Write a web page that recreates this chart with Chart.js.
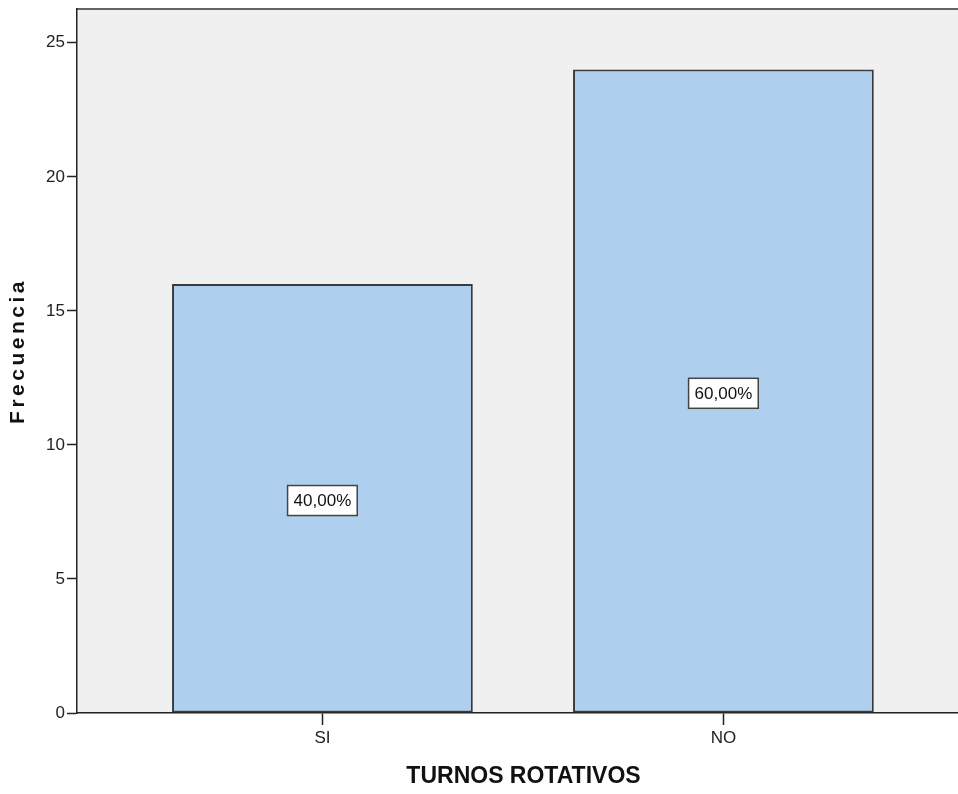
<!DOCTYPE html>
<html lang="es">
<head>
    <meta charset="UTF-8">
    <title>Turnos rotativos</title>
    <script src="https://cdn.jsdelivr.net/npm/chart.js"></script>
    <style>
        body { margin: 0; background: #fff; }
        #wrap { width: 958px; height: 794px; }
    </style>
</head>
<body>
    <div id="wrap"><canvas id="barChart" width="958" height="794"></canvas></div>

    <script>
        // data
        const categories = ['SI', 'NO']
        const frequencies = [16, 24]
        const yTicks = [0, 5, 10, 15, 20, 25]
        const yTitle = 'Frecuencia'
        const xTitle = 'TURNOS ROTATIVOS'

        const total = frequencies.reduce((a, b) => a + b, 0)
        const FONT = "'Liberation Sans', Arial, sans-serif"

        // gray plot background + top frame line
        const frame = {
            id: 'frame',
            beforeDraw(chart) {
                const { ctx, chartArea: a } = chart
                ctx.save()
                ctx.fillStyle = '#f0f0f0'
                ctx.fillRect(a.left, a.top, a.right - a.left, a.bottom - a.top)
                ctx.strokeStyle = '#333'
                ctx.lineWidth = 1.5
                ctx.beginPath()
                ctx.moveTo(a.left, a.top)
                ctx.lineTo(a.right, a.top)
                ctx.stroke()
                ctx.restore()
            }
        }

        // percentage boxes in the middle of each bar
        const pctLabels = {
            id: 'pctLabels',
            afterDatasetsDraw(chart) {
                const { ctx } = chart
                const yScale = chart.scales.y
                const meta = chart.getDatasetMeta(0)
                ctx.save()
                ctx.font = '17px ' + FONT
                ctx.textAlign = 'center'
                ctx.textBaseline = 'middle'
                meta.data.forEach((bar, i) => {
                    const v = frequencies[i]
                    const txt = (v / total * 100).toFixed(2).replace('.', ',') + '%'
                    const cy = yScale.getPixelForValue(v / 2) + 2
                    const w = ctx.measureText(txt).width + 12
                    const h = 30
                    ctx.fillStyle = '#fff'
                    ctx.fillRect(bar.x - w / 2, cy - h / 2, w, h)
                    ctx.strokeStyle = '#444'
                    ctx.lineWidth = 1.5
                    ctx.strokeRect(bar.x - w / 2, cy - h / 2, w, h)
                    ctx.fillStyle = '#111'
                    ctx.fillText(txt, bar.x, cy + 1)
                })
                ctx.restore()
            }
        }

        // axis titles (SPSS style, spaced y title)
        const axisTitles = {
            id: 'axisTitles',
            afterDraw(chart) {
                const { ctx, chartArea: a } = chart
                ctx.save()
                ctx.fillStyle = '#111'
                ctx.textAlign = 'center'
                ctx.textBaseline = 'middle'

                ctx.font = 'bold 23px ' + FONT
                ctx.fillText(xTitle, (a.left + a.right) / 2 + 6, a.bottom + 64)

                ctx.translate(18, (a.top + a.bottom) / 2 - 10)
                ctx.rotate(-Math.PI / 2)
                ctx.font = 'bold 21px ' + FONT
                ctx.letterSpacing = '3.5px'
                ctx.fillText(yTitle, 0, 0)
                ctx.restore()
            }
        }

        const ctx = document.getElementById('barChart').getContext('2d')
        const chart = new Chart(ctx, {
            type: 'bar',
            data: {
                datasets: [{
                    label: 'Frecuencia',
                    data: frequencies.map((v, i) => ({ x: i + 1, y: v })),
                    backgroundColor: '#aecfee',
                    borderColor: '#3a3a3a',
                    borderWidth: 2,
                    borderSkipped: false,
                    categoryPercentage: 0.75,
                    barPercentage: 1
                }]
            },
            options: {
                responsive: false,
                animation: false,
                layout: { padding: { top: 9, right: 0, left: 0, bottom: 0 } },
                plugins: {
                    legend: { display: false },
                    tooltip: { enabled: false }
                },
                scales: {
                    x: {
                        type: 'linear',
                        offset: false,
                        min: 0.388,
                        max: 2.585,
                        afterBuildTicks: s => { s.ticks = categories.map((c, i) => ({ value: i + 1 })) },
                        afterFit: s => { s.height = 81; s.paddingLeft = 0; s.paddingRight = 0 },
                        ticks: {
                            callback: v => categories[v - 1] || '',
                            color: '#222',
                            font: { family: FONT, size: 17 },
                            padding: 3,
                            maxRotation: 0
                        },
                        grid: { display: true, offset: false, drawOnChartArea: false, drawTicks: true, tickLength: 12, tickColor: '#222', tickWidth: 1.5 },
                        border: { display: true, color: '#222', width: 1.5 }
                    },
                    y: {
                        min: 0,
                        max: 26.26,
                        afterBuildTicks: s => { s.ticks = yTicks.map(v => ({ value: v })) },
                        afterFit: s => { s.width = 77; s.paddingTop = 0; s.paddingBottom = 0 },
                        ticks: {
                            color: '#222',
                            font: { family: FONT, size: 17 },
                            padding: 2
                        },
                        grid: { display: true, drawOnChartArea: false, drawTicks: true, tickLength: 10, tickColor: '#222', tickWidth: 1.5 },
                        border: { display: true, color: '#222', width: 1.5 }
                    }
                }
            },
            plugins: [frame, pctLabels, axisTitles]
        })
    </script>
</body>
</html>
